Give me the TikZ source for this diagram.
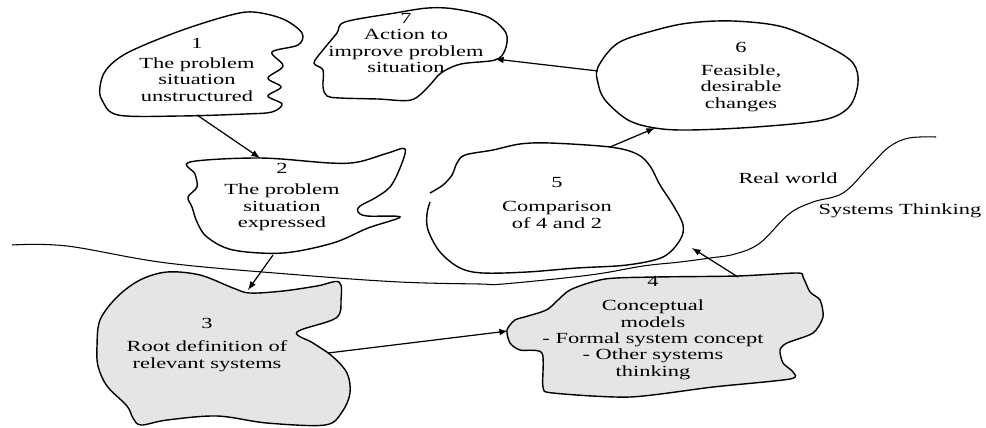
\documentclass[tikz,border=0pt]{standalone}
\usepackage{fontspec}
\setmainfont{Liberation Serif}
\usepackage{tikz}
\usetikzlibrary{shapes,arrows,positioning}

\begin{document}
\begin{tikzpicture}[x=0.02cm, y=-0.02cm,
    blob/.style={draw, line width=0.8pt},
    greyblob/.style={blob, fill=black!10},
    lbl/.style={align=center, xscale=1.45, inner sep=0pt, font=\fontsize{8.8}{9.3}\selectfont},
    flow/.style={->, >=latex, line width=0.7pt}]
    \useasboundingbox (0,0) rectangle (986,427);

    % boundary between the two worlds
    \draw[line width=0.6pt] plot[smooth, tension=0.6] coordinates {(12,245) (67,246) (167,263) (300,275) (400,282) (480,284) (503,284) (590,275) (643,266) (680,262) (710,258) (735,254) (760,243) (789,214) (813,202) (843,193) (869,167) (889,147) (909,138) (936,137)};

    % the blobs
    \draw[blob] plot[smooth cycle, tension=0.55] coordinates {(118,115) (102,100) (100,87) (106,70) (127,53) (177,32) (227,16) (253,12) (283,19) (302,33) (298,45) (272,52) (283,66) (268,78) (281,87) (268,96) (282,104) (272,112) (245,114) (180,116)};
    \draw[blob] plot[smooth cycle, tension=0.55] coordinates {(190,162) (260,158) (330,163) (358,162) (388,153) (405,149) (400,168) (390,187) (375,198) (360,206) (358,212) (367,216) (400,217) (368,228) (333,243) (283,253) (233,250) (207,237) (197,222) (192,207) (188,197) (197,187) (195,174)};
    \draw[greyblob] plot[smooth cycle, tension=0.55] coordinates {(98,366) (97,346) (100,320) (117,297) (140,280) (167,272) (200,275) (233,288) (250,293) (283,291) (317,286) (339,282) (341,300) (336,318) (297,332) (313,343) (332,356) (347,373) (350,393) (342,412) (325,425) (267,423) (217,416) (167,420) (141,425) (133,418) (127,406) (107,386)};
    \draw[greyblob] plot[smooth cycle, tension=0.45] coordinates {(507,330) (510,343) (520,350) (542,353) (543,387) (553,393) (630,397) (713,387) (790,379) (793,372) (783,363) (780,350) (787,343) (813,333) (823,317) (820,300) (810,292) (803,277) (797,273) (737,276) (655,277) (605,279) (570,290) (548,309) (528,316) (515,320)};
    \draw[blob] plot[smooth, tension=0.55] coordinates {(430,202) (427,214) (428,230) (440,252) (460,268) (483,273) (527,272) (577,268) (627,265) (663,257) (680,240) (683,225) (673,205) (660,185) (650,166) (637,154) (610,147) (550,143) (520,144) (493,150) (465,155) (457,163) (452,175) (443,185) (430,193)};
    \draw[blob] plot[smooth cycle, tension=0.55] coordinates {(656,30) (689,23) (733,21) (783,27) (829,47) (853,63) (858,83) (849,107) (823,120) (756,127) (689,130) (655,128) (628,120) (605,100) (598,83) (598,67) (618,43)};
    \draw[blob] plot[smooth cycle, tension=0.55] coordinates {(345,22) (395,13) (428,8) (455,9) (488,17) (506,33) (505,50) (495,60) (461,64) (441,73) (428,87) (411,100) (378,99) (340,98) (327,96) (323,87) (323,70) (314,63) (323,50) (337,33)};

    % labels
    \node[lbl] (situ) at (197,70) {1\\[2pt]The problem\\situation\\unstructured};
    \node[lbl] (expr) at (282,197) {2\\[3pt]The problem\\situation\\expressed};
    \node[lbl] (root) at (207,345) {3\\[3.8pt]Root definition of\\relevant systems};
    \node[lbl] (cmod) at (653,328) {4\\[4.3pt]Conceptual\\models\\- Formal system concept\\- Other systems\\thinking};
    \node[lbl] (comp) at (557,203) {5\\[4.3pt]Comparison\\of 4 and 2};
    \node[lbl] (feas) at (741,77) {6\\[3.8pt]Feasible,\\desirable\\changes};
    \node[lbl] (act) at (406,43) {7\\Action to\\improve problem\\situation};
    \node[lbl] (real) at (788,178) {Real world};
    \node[lbl] (syst) at (900,211) {Systems Thinking};

    % arrow ends on the outlines
    \coordinate (situS) at (197,115);
    \coordinate (exprN) at (260,158);
    \coordinate (exprS) at (273,255);
    \coordinate (rootN) at (248,290);
    \coordinate (rootE) at (328,353);
    \coordinate (cmodW) at (508,331);
    \coordinate (cmodN) at (738,277);
    \coordinate (compE) at (692,248);
    \coordinate (compN) at (610,147);
    \coordinate (feasS) at (655,128);
    \coordinate (feasW) at (598,71);
    \coordinate (actE) at (495,59);

    \draw[flow] (situS) -- (exprN);
    \draw[flow] (exprS) -- (rootN);
    \draw[flow] (rootE) -- (cmodW);
    \draw[flow] (cmodN) -- (compE);
    \draw[flow] (compN) -- (feasS);
    \draw[flow] (feasW) -- (actE);
\end{tikzpicture}
\end{document}
